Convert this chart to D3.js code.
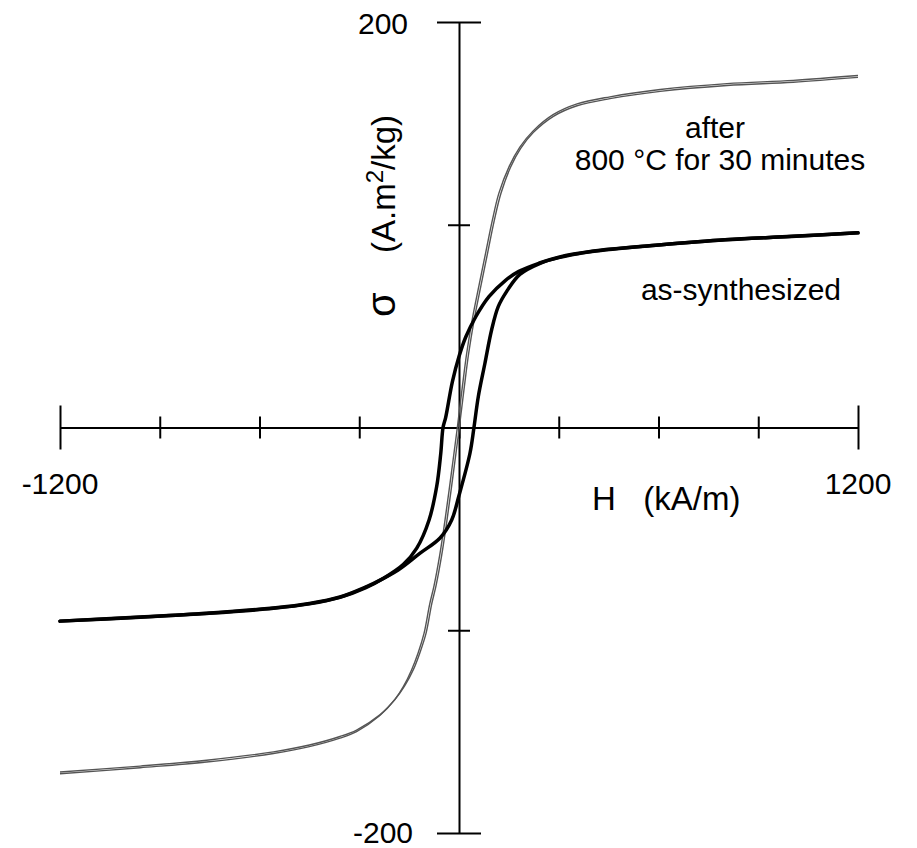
<!DOCTYPE html>
<html>
<head>
<meta charset="utf-8">
<script src="https://cdn.jsdelivr.net/npm/d3@7/dist/d3.min.js"></script>
<style>
  html, body { margin: 0; padding: 0; background: #fff; }
  svg { display: block; }
  text { font-family: "Liberation Sans", Arial, sans-serif; fill: #000; }
</style>
</head>
<body>
<svg id="chart" width="917" height="848"></svg>
<script>
// Magnetisation loops, sigma (A.m2/kg) against applied field H (kA/m)

// Axis ticks
const xTicks = [-1200, -900, -600, -300, 0, 300, 600, 900, 1200];
const yTicks = [-200, -100, 0, 100, 200];
const xTickLabels = [-1200, 1200];
const yTickLabels = [-200, 200];

// As-synthesized powder: descending branch (from +1200) then ascending branch (from -1200)
const asSynthDown = [
  [1200, 96.0], [1000, 94.2], [800, 92.6], [600, 90.0], [400, 86.9], [300, 84.0],
  [240, 81.0], [180, 77.0], [140, 72.6], [90, 64.5], [50, 54.5], [20, 44.5],
  [0, 35.0], [-20, 22.5], [-40, 5.0], [-48, 0], [-55, -13.0], [-67, -29.0],
  [-90, -45.6], [-127, -59.5], [-167, -67.5], [-228, -74.5], [-280, -79.0],
  [-358, -83.8], [-450, -87.0], [-558, -89.2], [-759, -91.7], [-959, -93.6], [-1200, -95.5]
];
const asSynthUp = [
  [-1200, -95.5], [-959, -93.5], [-759, -91.6], [-558, -89.0], [-450, -86.8],
  [-358, -83.6], [-280, -78.6], [-258, -77.0], [-183, -70.3], [-117, -62.0],
  [-57, -54.5], [-22, -45.6], [0, -33.5], [33, -12.7], [45, 0], [58, 15.2],
  [78, 31.7], [98, 48.1], [118, 59.6], [143, 67.0], [183, 75.5], [244, 81.0],
  [300, 83.8], [400, 86.8], [600, 90.0], [800, 92.6], [1000, 94.3], [1200, 96.0]
];

// After 800 °C for 30 minutes: descending then ascending branch
const annealedDown = [
  [1200, 173.6], [1005, 171.2], [806, 169.6], [605, 166.7], [454, 163.1], [355, 159.6],
  [283, 154.3], [223, 146.3], [183, 138.3], [151, 128.8], [120, 115.6], [100, 102.0],
  [80, 86.0], [60, 70.0], [40, 53.5], [23, 36.5], [10, 20.0], [-5, 0],
  [-23, -22.5], [-42, -45.6], [-58, -63.0], [-75, -78.0], [-88, -87.0], [-105, -101.4],
  [-123, -111.2], [-143, -119.7], [-167, -127.7], [-193, -134.2], [-239, -142.2],
  [-308, -150.0], [-358, -153.2], [-450, -157.4], [-558, -160.8], [-759, -165.0],
  [-959, -167.8], [-1200, -170.8]
];
const annealedUp = [
  [-1200, -169.9], [-959, -167.0], [-759, -164.1], [-558, -160.0], [-450, -156.6],
  [-358, -152.4], [-308, -149.2], [-237, -141.6], [-191, -133.8], [-163, -127.3],
  [-137, -119.3], [-117, -110.8], [-99, -101.4], [-82, -87.0], [-69, -78.0],
  [-52, -63.0], [-36, -45.6], [-17, -22.5], [1, 0], [16, 20.0], [29, 36.5],
  [46, 53.5], [66, 70.0], [86, 86.0], [106, 102.0], [126, 115.4], [155, 128.4],
  [185, 137.6], [224, 145.6], [284, 153.5], [355, 158.7], [454, 162.2],
  [605, 165.8], [806, 168.7], [1005, 170.3], [1200, 172.7]
];

const svg = d3.select("#chart");
const x = d3.scaleLinear().domain([-1200, 1200]).range([60, 858]);
const y = d3.scaleLinear().domain([-200, 200]).range([833, 22]);

const line = d3.line()
  .x(d => x(d[0]))
  .y(d => y(d[1]))
  .curve(d3.curveCatmullRom.alpha(0.5));

// Axes crossing at the origin
const xAxis = d3.axisBottom(x).tickValues(xTicks).tickSize(0).tickFormat("");
const yAxis = d3.axisLeft(y).tickValues(yTicks).tickSize(0).tickFormat("");

const gx = svg.append("g").attr("transform", `translate(0,${y(0)})`).call(xAxis);
gx.select(".domain").attr("stroke", "#000").attr("stroke-width", 2);
gx.selectAll(".tick line")
  .attr("stroke", "#000").attr("stroke-width", 2)
  .attr("y1", d => (Math.abs(d) === 1200 ? -22 : -11))
  .attr("y2", d => (Math.abs(d) === 1200 ? 22 : 11));

const gy = svg.append("g").attr("transform", `translate(${x(0)},0)`).call(yAxis);
gy.select(".domain").attr("stroke", "#000").attr("stroke-width", 2);
gy.selectAll(".tick line")
  .attr("stroke", "#000").attr("stroke-width", 2)
  .attr("x1", d => (Math.abs(d) === 200 ? -22 : -11))
  .attr("x2", d => (Math.abs(d) === 200 ? 22 : 11));

// Loops
svg.append("path").datum(annealedDown)
  .attr("d", line).attr("fill", "none").attr("stroke", "#555").attr("stroke-width", 1.4);
svg.append("path").datum(annealedUp)
  .attr("d", line).attr("fill", "none").attr("stroke", "#555").attr("stroke-width", 1.4);
svg.append("path").datum(asSynthDown)
  .attr("d", line).attr("fill", "none").attr("stroke", "#000").attr("stroke-width", 3.5)
  .attr("stroke-linejoin", "round").attr("stroke-linecap", "round");
svg.append("path").datum(asSynthUp)
  .attr("d", line).attr("fill", "none").attr("stroke", "#000").attr("stroke-width", 3.5)
  .attr("stroke-linejoin", "round").attr("stroke-linecap", "round");

const fs = 30;

// Tick labels at the ends of each axis
svg.selectAll(".xlab").data(xTickLabels).enter().append("text")
  .attr("x", d => x(d)).attr("y", 494)
  .attr("text-anchor", "middle").attr("font-size", fs)
  .text(d => d);
svg.selectAll(".ylab").data(yTickLabels).enter().append("text")
  .attr("x", 383).attr("y", d => (d > 0 ? y(d) + 12 : y(d) + 10))
  .attr("text-anchor", "middle").attr("font-size", fs)
  .text(d => d);

// Axis titles
svg.append("text")
  .attr("x", 592).attr("y", 510).attr("font-size", 33)
  .attr("xml:space", "preserve").style("white-space", "pre")
  .text("H   (kA/m)");

const yTitle = svg.append("g").attr("transform", "translate(395,0) rotate(-90)");
yTitle.append("text")
  .attr("x", -317).attr("y", 0).attr("font-size", 40)
  .text("σ");
const unit = yTitle.append("text")
  .attr("x", -253).attr("y", 0).attr("font-size", 33);
unit.append("tspan").text("(A.m");
unit.append("tspan").attr("dy", -12).attr("font-size", 24).text("2");
unit.append("tspan").attr("dy", 12).text("/kg)");

// Curve labels
svg.append("text").attr("x", 715).attr("y", 138).attr("text-anchor", "middle")
  .attr("font-size", fs).text("after");
svg.append("text").attr("x", 720).attr("y", 170).attr("text-anchor", "middle")
  .attr("font-size", fs).text("800 °C for 30 minutes");
svg.append("text").attr("x", 741).attr("y", 300).attr("text-anchor", "middle")
  .attr("font-size", fs).text("as-synthesized");
</script>
</body>
</html>
